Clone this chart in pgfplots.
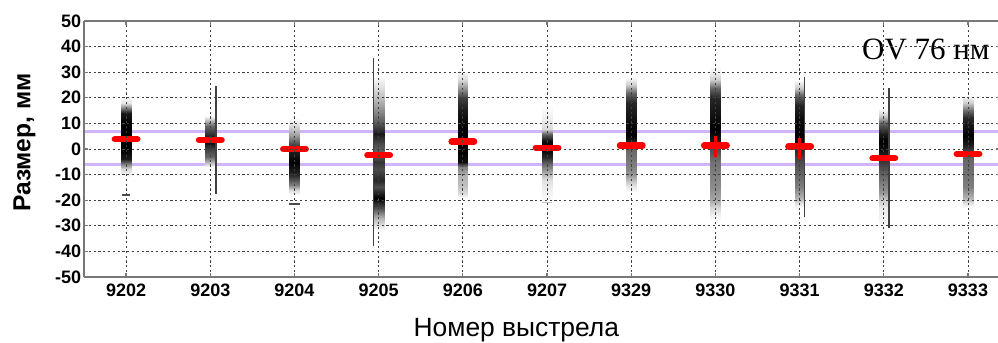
\documentclass[border=0pt]{standalone}
\usepackage{pgfplots}
\pgfplotsset{compat=1.18}
\usepackage{fontspec}
\setmainfont{Liberation Sans}
\newfontfamily\serifti{Liberation Serif}
\definecolor{lav}{RGB}{208,180,255}
\definecolor{axgray}{RGB}{120,120,120}
\definecolor{redd}{RGB}{255,0,0}
\pgfplotsset{prof/.style={surf, shader=interp, mesh/cols=2, point meta=explicit}}
\begin{document}
\begin{tikzpicture}
\useasboundingbox (-42pt,-33pt) rectangle (457pt,138.5pt);
\begin{axis}[
  at={(0pt,0pt)}, anchor=south west,
  view={0}{90},
  scale only axis, width=458pt, height=128pt,
  xmin=-0.5, xmax=10.38, ymin=-50, ymax=50, zmin=-1, zmax=1,
  xtick={0,...,10},
  xticklabels={9202,9203,9204,9205,9206,9207,9329,9330,9331,9332,9333},
  ytick={-50,-40,...,50},
  ztick=\empty,
  /pgf/number format/assume math mode=true,
  tick label style={font=\bfseries\fontsize{9}{10}\selectfont},
  xticklabel style={anchor=base, yshift=-9.8pt, inner sep=0pt},
  yticklabel style={anchor=east, inner sep=0pt, xshift=-1.2pt},
  tick align=inside, major tick length=2pt,
  tick style={axgray, line width=0.6pt},
  axis line style={axgray, line width=0.8pt},
  xmajorgrids, ymajorgrids,
  major grid style={black!75, line width=0.45pt, dash pattern=on 1.1pt off 1.3pt},
  colormap={bw}{color=(white) color=(black)},
  point meta min=0, point meta max=1,
  unbounded coords=jump,
  xlabel={Номер выстрела},
  xlabel style={at={(axis description cs:0.472,0)}, anchor=base, yshift=-29.9pt, inner sep=0pt, font=\fontsize{13.2}{15}\selectfont},
  ylabel={Размер, мм},
  ylabel style={at={(axis description cs:-0.0524,0.525)}, anchor=south, rotate=0, inner sep=0pt, font=\bfseries\fontsize{12.3}{14}\selectfont},
  clip=true,
]
% reference band
\addplot[lav, line width=1.5pt, forget plot] coordinates {(-0.5,7) (10.38,7)};
\addplot[lav, line width=1.5pt, forget plot] coordinates {(-0.5,-6) (10.38,-6)};

% intensity profiles (ascending y)
\addplot3[prof] table[x=x, y=y, z expr=0, meta=c] {
x y c
-0.06 -11 0
0.06 -11 0
-0.06 -8 0.15
0.06 -8 0.15
-0.06 -6 0.5
0.06 -6 0.5
-0.06 -4 0.9
0.06 -4 0.9
-0.06 0 1
0.06 0 1
-0.06 10 1
0.06 10 1
-0.06 14 0.9
0.06 14 0.9
-0.06 16 0.5
0.06 16 0.5
-0.06 18 0.1
0.06 18 0.1
-0.06 21 0
0.06 21 0
};
\addplot3[prof] table[x=x, y=y, z expr=0, meta=c] {
x y c
0.94 -7 0
1.06 -7 0
0.94 -5 0.3
1.06 -5 0.3
0.94 -3 0.6
1.06 -3 0.6
0.94 0 0.75
1.06 0 0.75
0.94 3 1
1.06 3 1
0.94 6 0.8
1.06 6 0.8
0.94 9 0.6
1.06 9 0.6
0.94 11 0.3
1.06 11 0.3
0.94 13 0
1.06 13 0
};
\addplot3[prof] table[x=x, y=y, z expr=0, meta=c] {
x y c
1.94 -18 0
2.06 -18 0
1.94 -16 0.15
2.06 -16 0.15
1.94 -14 0.5
2.06 -14 0.5
1.94 -10 0.85
2.06 -10 0.85
1.94 -5 1
2.06 -5 1
1.94 0 0.85
2.06 0 0.85
1.94 2 0.7
2.06 2 0.7
1.94 5 0.4
2.06 5 0.4
1.94 9 0.15
2.06 9 0.15
1.94 12 0
2.06 12 0
};
\addplot3[prof] table[x=x, y=y, z expr=0, meta=c] {
x y c
2.935 -32 0
3.065 -32 0
2.935 -30 0.1
3.065 -30 0.1
2.935 -27 0.3
3.065 -27 0.3
2.935 -23 0.7
3.065 -23 0.7
2.935 -19 1
3.065 -19 1
2.935 -15 0.7
3.065 -15 0.7
2.935 -12 0.85
3.065 -12 0.85
2.935 -8 0.7
3.065 -8 0.7
2.935 -5 0.8
3.065 -5 0.8
2.935 -2 0.6
3.065 -2 0.6
2.935 2 0.7
3.065 2 0.7
2.935 6 0.9
3.065 6 0.9
2.935 10 0.65
3.065 10 0.65
2.935 15 0.45
3.065 15 0.45
2.935 20 0.25
3.065 20 0.25
2.935 25 0.1
3.065 25 0.1
2.935 29 0
3.065 29 0
};
\addplot3[prof] table[x=x, y=y, z expr=0, meta=c] {
x y c
3.94 -19 0
4.06 -19 0
3.94 -17 0.15
4.06 -17 0.15
3.94 -14 0.25
4.06 -14 0.25
3.94 -10 0.3
4.06 -10 0.3
3.94 -7 0.5
4.06 -7 0.5
3.94 -5 0.95
4.06 -5 0.95
3.94 0 1
4.06 0 1
3.94 8 1
4.06 8 1
3.94 15 0.9
4.06 15 0.9
3.94 20 0.75
4.06 20 0.75
3.94 24 0.4
4.06 24 0.4
3.94 27 0.15
4.06 27 0.15
3.94 31 0
4.06 31 0
};
\addplot3[prof] table[x=x, y=y, z expr=0, meta=c] {
x y c
4.94 -21 0
5.06 -21 0
4.94 -16 0.06
5.06 -16 0.06
4.94 -12 0.12
5.06 -12 0.12
4.94 -9 0.35
5.06 -9 0.35
4.94 -6 0.6
5.06 -6 0.6
4.94 -3 0.85
5.06 -3 0.85
4.94 0 1
5.06 0 1
4.94 3 0.95
5.06 3 0.95
4.94 6 0.6
5.06 6 0.6
4.94 8 0.15
5.06 8 0.15
4.94 12 0.06
5.06 12 0.06
4.94 17 0
5.06 17 0
};
\addplot3[prof] table[x=x, y=y, z expr=0, meta=c] {
x y c
5.94 -17 0
6.06 -17 0
5.94 -15 0.08
6.06 -15 0.08
5.94 -13 0.2
6.06 -13 0.2
5.94 -10 0.4
6.06 -10 0.4
5.94 -7 0.5
6.06 -7 0.5
5.94 -3 0.55
6.06 -3 0.55
5.94 0 0.6
6.06 0 0.6
5.94 2 0.8
6.06 2 0.8
5.94 5 1
6.06 5 1
5.94 10 0.95
6.06 10 0.95
5.94 18 0.85
6.06 18 0.85
5.94 22 0.6
6.06 22 0.6
5.94 25 0.2
6.06 25 0.2
5.94 28 0
6.06 28 0
};
\addplot3[prof] table[x=x, y=y, z expr=0, meta=c] {
x y c
6.94 -28 0
7.06 -28 0
6.94 -26 0.05
7.06 -26 0.05
6.94 -23 0.15
7.06 -23 0.15
6.94 -20 0.35
7.06 -20 0.35
6.94 -15 0.45
7.06 -15 0.45
6.94 -10 0.5
7.06 -10 0.5
6.94 -5 0.55
7.06 -5 0.55
6.94 0 0.7
7.06 0 0.7
6.94 3 0.9
7.06 3 0.9
6.94 8 1
7.06 8 1
6.94 20 0.85
7.06 20 0.85
6.94 24 0.6
7.06 24 0.6
6.94 27 0.2
7.06 27 0.2
6.94 30 0.05
7.06 30 0.05
6.94 33 0
7.06 33 0
};
\addplot3[prof] table[x=x, y=y, z expr=0, meta=c] {
x y c
7.94 -23 0
8.06 -23 0
7.94 -21 0.12
8.06 -21 0.12
7.94 -19 0.3
8.06 -19 0.3
7.94 -15 0.5
8.06 -15 0.5
7.94 -10 0.6
8.06 -10 0.6
7.94 -5 0.7
8.06 -5 0.7
7.94 0 0.85
8.06 0 0.85
7.94 5 1
8.06 5 1
7.94 12 0.95
8.06 12 0.95
7.94 17 0.85
8.06 17 0.85
7.94 21 0.6
8.06 21 0.6
7.94 24 0.2
8.06 24 0.2
7.94 27 0
8.06 27 0
};
\addplot3[prof] table[x=x, y=y, z expr=0, meta=c] {
x y c
8.94 -30 0
9.06 -30 0
8.94 -28 0.04
9.06 -28 0.04
8.94 -23 0.08
9.06 -23 0.08
8.94 -20 0.2
9.06 -20 0.2
8.94 -17 0.4
9.06 -17 0.4
8.94 -12 0.55
9.06 -12 0.55
8.94 -7 0.7
9.06 -7 0.7
8.94 -3 0.85
9.06 -3 0.85
8.94 0 0.95
9.06 0 0.95
8.94 3 1
9.06 3 1
8.94 6 0.9
9.06 6 0.9
8.94 10 0.6
9.06 10 0.6
8.94 13 0.2
9.06 13 0.2
8.94 16 0
9.06 16 0
};
\addplot3[prof] table[x=x, y=y, z expr=0, meta=c] {
x y c
9.94 -23 0
10.06 -23 0
9.94 -21 0.12
10.06 -21 0.12
9.94 -19 0.3
10.06 -19 0.3
9.94 -15 0.5
10.06 -15 0.5
9.94 -10 0.55
10.06 -10 0.55
9.94 -4 0.6
10.06 -4 0.6
9.94 0 0.8
10.06 0 0.8
9.94 2 0.9
10.06 2 0.9
9.94 5 1
10.06 5 1
9.94 12 0.85
10.06 12 0.85
9.94 15 0.6
10.06 15 0.6
9.94 18 0.2
10.06 18 0.2
9.94 21 0
10.06 21 0
};

% thin range lines
\addplot[black!75, line width=0.7pt] table {
x y
1.07 -17.5
1.07 24.6
nan nan
2.94 -38
2.94 35.5
nan nan
8.06 -26.4
8.06 28.2
nan nan
9.06 -31
9.06 24
};
% small dashes
\addplot[black!70, line width=0.7pt] table {
x y
-0.05 -18
0.05 -18
nan nan
1.94 -21.5
2.06 -21.5
};
\addplot[black!25, line width=0.6pt] table {
x y
4.94 -21
5.06 -21
};

% mean markers
\addplot[redd, line width=1.3pt] table {
x y
7 5.0
7 -3.2
nan nan
8 4.4
8 -3.8
};
\addplot[redd, line width=3.2pt, line cap=round] table {
x y
-0.134 3.8
0.134 3.8
nan nan
0.866 3.5
1.134 3.5
nan nan
1.866 0
2.134 0
nan nan
2.866 -2.4
3.134 -2.4
nan nan
3.866 2.9
4.134 2.9
nan nan
4.866 0.5
5.134 0.5
nan nan
5.866 1.4
6.134 1.4
nan nan
6.866 1.4
7.134 1.4
nan nan
7.866 1.0
8.134 1.0
nan nan
8.866 -3.6
9.134 -3.6
nan nan
9.866 -1.9
10.134 -1.9
};

\node[anchor=center, font=\serifti\fontsize{15.5}{17}\selectfont, inner sep=0pt] at (axis cs:9.5,38.7) {OV 76 нм};
\end{axis}
\end{tikzpicture}
\end{document}
